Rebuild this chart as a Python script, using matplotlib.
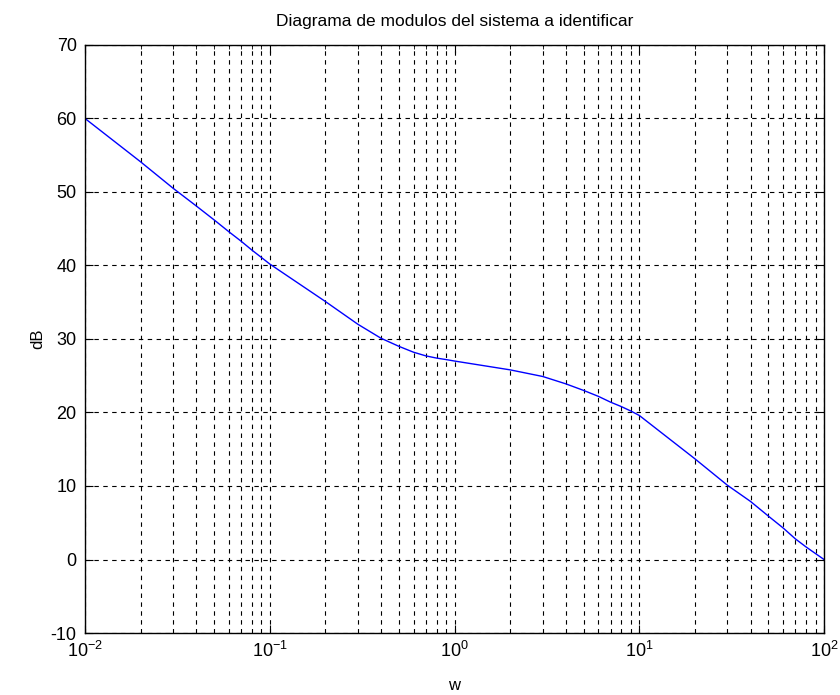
import matplotlib
matplotlib.use("Agg")
import matplotlib.pyplot as plt
from matplotlib.ticker import LogLocator, NullFormatter

# magnitude (w in rad/s, dB)
w = [0.01, 0.02, 0.03, 0.04, 0.05, 0.06, 0.07, 0.08, 0.09,
     0.1, 0.2, 0.3, 0.4, 0.5, 0.6, 0.7, 0.8, 0.9,
     1, 2, 3, 4, 5, 6, 7, 8, 9,
     10, 20, 30, 40, 50, 60, 70, 80, 90, 100]
mag_db = [60.0, 54.1, 50.5, 48.1, 46.2, 44.6, 43.3, 42.1, 41.1,
          40.2, 35.1, 32.0, 30.1, 29.0, 28.2, 27.7, 27.4, 27.2,
          27.0, 25.8, 24.9, 23.9, 23.0, 22.2, 21.4, 20.8, 20.2,
          19.6, 13.7, 10.1, 7.9, 5.9, 4.3, 2.8, 1.7, 0.8, 0.0]

plt.rcParams["font.family"] = ["Liberation Sans", "DejaVu Sans"]
plt.rcParams["mathtext.fontset"] = "custom"
plt.rcParams["mathtext.rm"] = "Liberation Sans"
plt.rcParams["mathtext.default"] = "regular"
plt.rcParams["axes.unicode_minus"] = False

fig = plt.figure(figsize=(8.4, 6.95), dpi=100)
ax = fig.add_axes([0.1012, 0.0892, 0.8798, 0.8461])

ax.semilogx(w, mag_db, color="#0000ff", lw=1.0)
ax.set_xlim(1e-2, 1e2)
ax.set_ylim(-10, 70)
ax.set_yticks(range(-10, 71, 10))
ax.xaxis.set_major_locator(LogLocator(base=10, numticks=10))
ax.xaxis.set_minor_locator(LogLocator(base=10, subs=range(2, 10), numticks=20))
ax.xaxis.set_minor_formatter(NullFormatter())

ax.grid(True, which="major", color="black", ls=(0, (4, 4)), lw=0.8)
ax.grid(True, which="minor", axis="x", color="black", ls=(0, (4, 4)), lw=0.8)
ax.tick_params(which="both", direction="in", top=True, right=True, labelsize=13)
ax.tick_params(which="major", length=6, pad=6)
ax.tick_params(which="minor", length=3)
for s in ax.spines.values():
    s.set_linewidth(1.0)

ax.set_title("Diagrama de modulos del sistema a identificar", fontsize=12.5, pad=14)
ax.set_xlabel("w", fontsize=12, labelpad=12)
ax.set_ylabel("dB", fontsize=12, labelpad=4)

fig.savefig("out.png", dpi=100)
